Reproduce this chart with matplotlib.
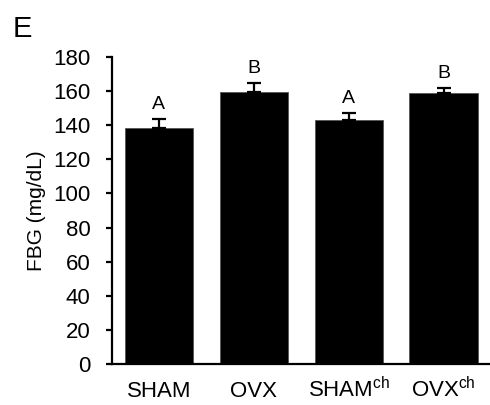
import matplotlib.pyplot as plt
import numpy as np

plt.rcParams['font.family'] = ['Liberation Sans', 'DejaVu Sans']
plt.rcParams['mathtext.fontset'] = 'custom'
plt.rcParams['mathtext.rm'] = 'Liberation Sans'

groups = ['SHAM', 'OVX', 'SHAM$^{\\mathrm{ch}}$', 'OVX$^{\\mathrm{ch}}$']
fbg_mean = [138.3, 159.3, 143.3, 158.6]
fbg_sem = [5.6, 5.7, 4.1, 3.3]
letters = ['A', 'B', 'A', 'B']
yticks = list(range(0, 181, 20))

fig = plt.figure(figsize=(4.9, 4.05), dpi=100)
ax = fig.add_axes([0.2286, 0.1012, 0.7694, 0.7581])

x = np.arange(len(groups))
ax.bar(x, fbg_mean, width=0.72, color='black', edgecolor='#555555', linewidth=0.6, zorder=2)
ax.errorbar(x, fbg_mean, yerr=[np.zeros(len(x)), fbg_sem], fmt='none',
            ecolor='black', elinewidth=1.6, capsize=5, capthick=1.6, zorder=3)

# significance letters above the error bars
for xi, m, s, t in zip(x, fbg_mean, fbg_sem, letters):
    ax.annotate(t, xy=(xi, m + s), xytext=(0, 6.8), textcoords='offset points',
                ha='center', va='baseline', fontsize=14)

ax.set_xlim(-0.494, 3.478)
ax.set_ylim(0, 180)
ax.set_yticks(yticks)
ax.tick_params(axis='y', labelsize=16, width=1.6, length=4.5, pad=11)
ax.set_xticks(x, [''] * len(x))
ax.tick_params(axis='x', length=0)

# group names drawn on a common baseline
for xi, g in zip(x, groups):
    ax.annotate(g, xy=(xi, 0), xycoords=('data', 'axes fraction'),
                xytext=(0, -23.8), textcoords='offset points',
                ha='center', va='baseline', fontsize=16)

for side in ['top', 'right']:
    ax.spines[side].set_visible(False)
for side in ['left', 'bottom']:
    ax.spines[side].set_linewidth(1.6)

ax.set_ylabel('FBG (mg/dL)', fontsize=15, labelpad=5.5)

fig.text(0.026, 0.909, 'E', fontsize=21, va='baseline')

fig.savefig('out.png', dpi=100)
